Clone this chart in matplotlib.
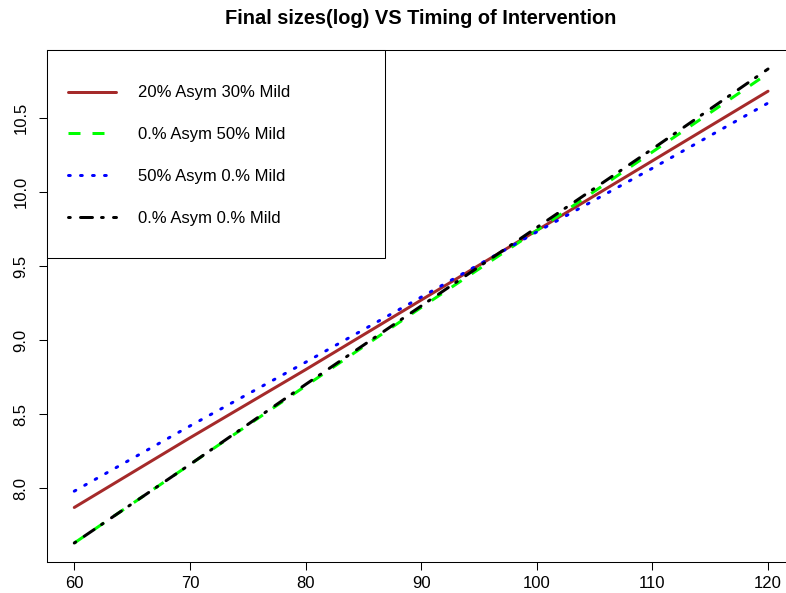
import matplotlib
matplotlib.use("Agg")
import matplotlib.pyplot as plt
import numpy as np
from matplotlib.patches import Rectangle

plt.rcParams['font.family'] = ['Liberation Sans', 'DejaVu Sans']

timing = [60, 70, 80, 90, 100, 110, 120]
red_vals = [7.87, 8.34, 8.80, 9.27, 9.74, 10.21, 10.68]
green_vals = [7.63, 8.16, 8.69, 9.22, 9.74, 10.27, 10.80]
blue_vals = [7.98, 8.42, 8.85, 9.29, 9.73, 10.16, 10.60]
black_vals = [7.63, 8.16, 8.70, 9.23, 9.76, 10.29, 10.83]
labels = ["20% Asym 30% Mild", "0.% Asym 50% Mild", "50% Asym 0.% Mild", "0.% Asym 0.% Mild"]
xticks = [60, 70, 80, 90, 100, 110, 120]
yticks = [8.0, 8.5, 9.0, 9.5, 10.0, 10.5]
title = "Final sizes(log) VS Timing of Intervention"

W, H = 786, 593
fig = plt.figure(figsize=(W / 100, H / 100), dpi=100)
L, R, T, B = 46.5, 795.8, 50, 562
ax = fig.add_axes([L / W, 1 - B / H, (R - L) / W, (B - T) / H])

lw = 2.16
ax.plot(timing, red_vals, color='#A52A2A', lw=lw, solid_capstyle='round', label=labels[0])
ax.plot(timing, green_vals, color='#00FF00', lw=lw, dashes=(4, 4), dash_capstyle='butt', label=labels[1])
ax.plot(timing, blue_vals, color='#0000FF', lw=lw, dashes=(0.6, 3.4), dash_capstyle='round', label=labels[2])
ax.plot(timing, black_vals, color='black', lw=lw, dashes=(0.6, 3.4, 4, 3), dash_capstyle='round', label=labels[3])

allv = np.concatenate([red_vals, green_vals, blue_vals, black_vals])
xr = max(timing) - min(timing)
ax.set_xlim(min(timing) - 0.04 * xr, max(timing) + 0.04 * xr)
yr = allv.max() - allv.min()
ax.set_ylim(allv.min() - 0.04 * yr, allv.max() + 0.04 * yr)

ax.set_xticks(xticks)
ax.set_xticklabels([str(v) for v in xticks])
ax.set_yticks(yticks)
ax.set_yticklabels([f"{v:.1f}" for v in yticks], rotation=90, va='center')
ax.tick_params(axis='both', direction='out', length=5.8, width=0.75, labelsize=12, color='black')
ax.tick_params(axis='x', pad=4)
ax.tick_params(axis='y', pad=7)
for s in ax.spines.values():
    s.set_linewidth(0.75)
    s.set_color('black')

fig.text(((L + R) / 2) / W, 1 - 19 / H, title, ha='center', va='center', fontsize=14.4, fontweight='bold')

# legend frame (R-style box)
lx0, ly0, lx1, ly1 = 47, 50, 385, 258
rect = Rectangle((lx0 / W, 1 - ly1 / H), (lx1 - lx0) / W, (ly1 - ly0) / H, transform=fig.transFigure,
                 facecolor='white', edgecolor='black', lw=0.75, zorder=5, clip_on=False)
ax.add_artist(rect)
leg = ax.legend(loc='upper left', bbox_to_anchor=(68 / W, 1 - 85.5 / H), bbox_transform=fig.transFigure,
                frameon=False, fontsize=12, handlelength=2.85, handletextpad=1.38, labelspacing=1.6,
                borderpad=0, borderaxespad=0)
leg.set_zorder(6)
fig.savefig("out.png", dpi=100)
